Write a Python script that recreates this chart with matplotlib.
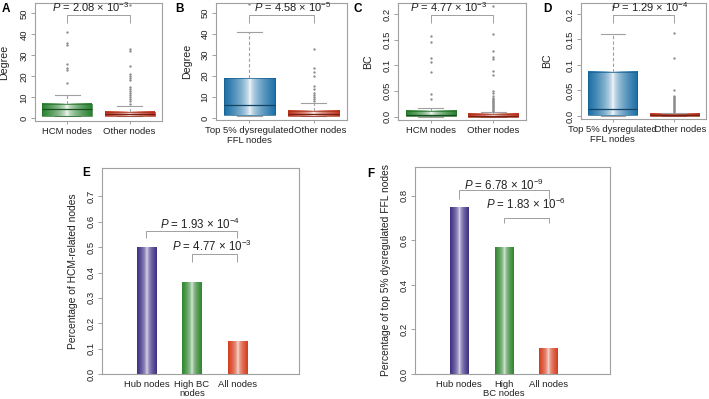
#!/usr/bin/env python3
import numpy as np
import matplotlib
matplotlib.use("Agg")
import matplotlib.pyplot as plt
import matplotlib.colors as mcolors
import matplotlib.transforms as mtransforms

plt.rcParams["font.family"] = ["Liberation Sans", "DejaVu Sans"]
plt.rcParams["mathtext.fontset"] = "custom"
plt.rcParams["mathtext.rm"] = "Liberation Sans"
plt.rcParams["mathtext.it"] = "Liberation Sans:italic"

# box stats: q1, median, q3, low whisker, high whisker
A_LABELS = ["HCM nodes", "Other nodes"]
A_HCM_BOX = [1, 4.5, 7, 1, 11]
A_HCM_OUT = [41, 36, 35, 26, 24, 23, 17]
A_OTHER_BOX = [1, 2, 3, 1, 6]
A_OTHER_OUT = [54, 33, 32, 25, 21, 20, 19, 18, 15, 14, 13, 12, 11, 10, 9, 8, 7]
A_P = "2.08 × 10$^{-3}$"

B_LABELS = ["Top 5% dysregulated\nFFL nodes", "Other nodes"]
B_TOP_BOX = [1.5, 6, 19, 1, 41]
B_TOP_OUT = [54]
B_OTHER_BOX = [1, 2, 3.5, 1, 7]
B_OTHER_OUT = [33, 24, 22, 20, 15, 14, 12, 11, 10, 9, 8]
B_P = "4.58 × 10$^{-5}$"

C_LABELS = ["HCM nodes", "Other nodes"]
C_HCM_BOX = [0.0005, 0.004, 0.011, 0, 0.017]
C_HCM_OUT = [0.157, 0.146, 0.114, 0.107, 0.088, 0.045, 0.035]
C_OTHER_BOX = [0, 0.001, 0.006, 0, 0.009]
C_OTHER_OUT = [0.216, 0.161, 0.128, 0.117, 0.112, 0.089, 0.081, 0.05, 0.046,
               0.04, 0.037, 0.035, 0.033, 0.031, 0.029, 0.027, 0.025, 0.023,
               0.021, 0.019, 0.017, 0.015, 0.013, 0.011]
C_P = "4.77 × 10$^{-3}$"

D_LABELS = ["Top 5% dysregulated\nFFL nodes", "Other nodes"]
D_TOP_BOX = [0.001, 0.013, 0.087, 0, 0.16]
D_TOP_OUT = [0.216]
D_OTHER_BOX = [0, 0.001, 0.004, 0, 0.006]
D_OTHER_OUT = [0.162, 0.113, 0.051, 0.04, 0.037, 0.035, 0.033, 0.031, 0.029,
               0.027, 0.025, 0.023, 0.021, 0.019, 0.017, 0.015, 0.013, 0.011,
               0.009, 0.008]
D_P = "1.29 × 10$^{-4}$"

E_LABELS = ["Hub nodes", "High BC\nnodes", "All nodes"]
E_VALUES = [0.50, 0.36, 0.13]
E_P = ["1.93 × 10$^{-4}$", "4.77 × 10$^{-3}$"]

F_LABELS = ["Hub nodes", "High\nBC nodes", "All nodes"]
F_VALUES = [0.75, 0.57, 0.115]
F_P = ["6.78 × 10$^{-9}$", "1.83 × 10$^{-6}$"]

GREEN = "#2a8231"
RED = "#c3361e"
BLUE = "#1b6fa6"
PURPLE = "#3f2f86"
BAR_GREEN = "#2f852f"
BAR_RED = "#d63c1c"
FRAME = "#a0a0a0"
TEXT = "#222222"

W, H = 709, 399


def px_axes(fig, x0, y0, x1, y1):
    return fig.add_axes([x0 / W, 1 - y1 / H, (x1 - x0) / W, (y1 - y0) / H])


def gradient(color, n=80, power=0.55):
    base = np.array(mcolors.to_rgb(color))
    t = np.abs(np.linspace(-1, 1, n)) ** power
    rgb = 1 - t[:, None] * (1 - base)
    return rgb[None, :, :]


def darker(color, k=0.7):
    return tuple(c * k for c in mcolors.to_rgb(color))


def style_frame(ax):
    for sp in ax.spines.values():
        sp.set_color(FRAME)
        sp.set_linewidth(0.8)
    ax.tick_params(colors=FRAME, labelcolor=TEXT, labelsize=6.8, width=0.7)
    ax.tick_params(axis="y", length=2.8, pad=2)


def rotate_yticks(ax):
    for lbl in ax.get_yticklabels():
        lbl.set_rotation(90)
        lbl.set_va("center")
        lbl.set_ha("right")


def nudge_xlabel(fig, ax, index, dx_px):
    lbl = ax.get_xticklabels()[index]
    lbl.set_transform(lbl.get_transform()
                      + mtransforms.ScaledTranslation(dx_px / 100, 0, fig.dpi_scale_trans))


def p_label(ax, x, y, value, size=8):
    ax.text(x, y, r"$\mathit{P}$ = " + value, ha="center", va="center",
            fontsize=size, color=TEXT)


def bracket(ax, x1, x2, top, leg):
    ax.plot([x1, x1, x2, x2], [leg, top, top, leg], color=FRAME, lw=0.7,
            solid_capstyle="butt")


def box_panel(ax, boxes, outs, colors, labels, ylim, yticks, yticklabels):
    stats = []
    for box, out in zip(boxes, outs):
        q1, med, q3, lo, hi = box
        stats.append(dict(q1=q1, med=med, q3=q3, whislo=lo, whishi=hi, fliers=out))
    pos = [1, 2]
    art = ax.bxp(stats, positions=pos, widths=0.8, capwidths=0.4,
                 patch_artist=True,
                 boxprops=dict(facecolor="none", linewidth=0.5),
                 whiskerprops=dict(color=FRAME, linestyle=(0, (3, 2)), linewidth=0.8),
                 capprops=dict(color=FRAME, linewidth=0.8),
                 medianprops=dict(linewidth=0.9),
                 flierprops=dict(marker="o", markersize=1.7, markerfacecolor="#8c8c8c",
                                 markeredgecolor="none"))
    for i, (box, col) in enumerate(zip(boxes, colors)):
        q1, med, q3 = box[0], box[1], box[2]
        art["boxes"][i].set_edgecolor(darker(col, 0.85))
        art["boxes"][i].set_zorder(2.5)
        art["medians"][i].set_color(darker(col, 0.6))
        art["medians"][i].set_zorder(3)
        ax.imshow(gradient(col), extent=[pos[i] - 0.4, pos[i] + 0.4, q1, q3],
                  aspect="auto", zorder=1.9, interpolation="bilinear")
    ax.set_xlim(0.48, 2.52)
    ax.set_ylim(*ylim)
    ax.set_xticks(pos)
    ax.set_xticklabels(labels, linespacing=1.1)
    ax.set_yticks(yticks)
    ax.set_yticklabels(yticklabels)
    style_frame(ax)
    ax.tick_params(axis="x", length=2.5, pad=2)
    rotate_yticks(ax)


def bar_panel(ax, values, colors, labels, ylim, yticks, yticklabels):
    x = np.arange(1, len(values) + 1)
    rects = ax.bar(x, values, width=0.42, color="none", edgecolor="none", zorder=2)
    for rect, col in zip(rects, colors):
        x0 = rect.get_x()
        ax.imshow(gradient(col, power=0.4),
                  extent=[x0, x0 + rect.get_width(), 0, rect.get_height()],
                  aspect="auto", zorder=1.9, interpolation="bilinear")
    ax.set_xlim(0.02, 4.36)
    ax.set_ylim(*ylim)
    ax.set_xticks(x)
    ax.set_xticklabels(labels, linespacing=1.1)
    ax.set_yticks(yticks)
    ax.set_yticklabels(yticklabels)
    style_frame(ax)
    ax.tick_params(axis="x", length=0, pad=4)
    rotate_yticks(ax)


fig = plt.figure(figsize=(W / 100, H / 100), dpi=100)

deg_ticks = [0, 10, 20, 30, 40, 50]
bc_ticks = [0, 0.05, 0.1, 0.15, 0.2]
bc_labels = ["0.0", "0.05", "0.1", "0.15", "0.2"]

axA = px_axes(fig, 35, 3, 162, 121)
box_panel(axA, [A_HCM_BOX, A_OTHER_BOX], [A_HCM_OUT, A_OTHER_OUT], [GREEN, RED],
          A_LABELS, (-1.3, 54.9), deg_ticks, [str(t) for t in deg_ticks])
bracket(axA, 1, 2, 49.2, 45.5)
p_label(axA, 1.37, 52.9, A_P)
axA.set_ylabel("Degree", fontsize=7.7, color=TEXT)
axA.yaxis.set_label_coords(-0.2, 0.5)

axB = px_axes(fig, 216, 3, 347, 120)
box_panel(axB, [B_TOP_BOX, B_OTHER_BOX], [B_TOP_OUT, B_OTHER_OUT], [BLUE, RED],
          B_LABELS, (-0.9, 54.6), deg_ticks, [str(t) for t in deg_ticks])
bracket(axB, 1, 2, 48.9, 45.3)
p_label(axB, 1.67, 52.6, B_P)
axB.set_ylabel("Degree", fontsize=7.7, color=TEXT)
axB.yaxis.set_label_coords(-0.183, 0.5)
nudge_xlabel(fig, axB, 1, 7)

axC = px_axes(fig, 398, 3, 526, 120)
box_panel(axC, [C_HCM_BOX, C_OTHER_BOX], [C_HCM_OUT, C_OTHER_OUT], [GREEN, RED],
          C_LABELS, (-0.0064, 0.2214), bc_ticks, bc_labels)
bracket(axC, 1, 2, 0.198, 0.183)
p_label(axC, 1.29, 0.213, C_P)
axC.set_ylabel("BC", fontsize=7.7, color=TEXT)
axC.yaxis.set_label_coords(-0.195, 0.5)

axD = px_axes(fig, 581, 3, 706, 119)
box_panel(axD, [D_TOP_BOX, D_OTHER_BOX], [D_TOP_OUT, D_OTHER_OUT], [BLUE, RED],
          D_LABELS, (-0.006, 0.2216), bc_ticks, bc_labels)
bracket(axD, 1, 2, 0.198, 0.183)
p_label(axD, 1.61, 0.213, D_P)
axD.set_ylabel("BC", fontsize=7.7, color=TEXT)
axD.yaxis.set_label_coords(-0.232, 0.5)
nudge_xlabel(fig, axD, 1, 6)

axE = px_axes(fig, 102, 168, 299, 374)
e_ticks = [0, 0.1, 0.2, 0.3, 0.4, 0.5, 0.6, 0.7]
bar_panel(axE, E_VALUES, [PURPLE, BAR_GREEN, BAR_RED], E_LABELS, (0, 0.812),
          e_ticks, [f"{t:.1f}" for t in e_ticks])
bracket(axE, 1, 3, 0.564, 0.535)
bracket(axE, 2, 3, 0.472, 0.443)
p_label(axE, 2.17, 0.588, E_P[0], size=8.3)
p_label(axE, 2.45, 0.502, E_P[1], size=8.3)
axE.set_ylabel("Percentage of HCM-related nodes", fontsize=7.4, color=TEXT)
axE.yaxis.set_label_coords(-0.122, 0.5)

axF = px_axes(fig, 415, 167, 610, 374)
f_ticks = [0, 0.2, 0.4, 0.6, 0.8]
bar_panel(axF, F_VALUES, [PURPLE, BAR_GREEN, BAR_RED], F_LABELS, (0, 0.93),
          f_ticks, [f"{t:.1f}" for t in f_ticks])
bracket(axF, 1, 3, 0.827, 0.786)
bracket(axF, 2, 3, 0.70, 0.677)
p_label(axF, 2.0, 0.847, F_P[0], size=8.3)
p_label(axF, 2.5, 0.76, F_P[1], size=8.3)
axF.set_ylabel("Percentage of top 5% dysregulated FFL nodes", fontsize=7.4, color=TEXT)
axF.yaxis.set_label_coords(-0.123, 0.5)

for letter, x, y in [("A", 2, 3), ("B", 175, 3), ("C", 353, 3), ("D", 543, 3),
                     ("E", 82, 167), ("F", 367, 168)]:
    fig.text(x / W, 1 - y / H, letter, fontsize=8.5, fontweight="bold",
             ha="left", va="top", color="black")

fig.savefig("out.png", dpi=100)
